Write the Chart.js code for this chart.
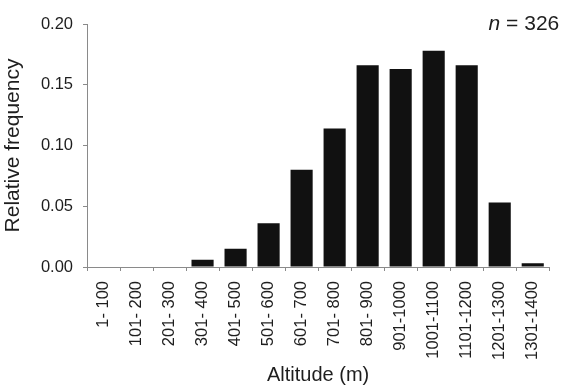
<!DOCTYPE html>
<html>
<head>
<meta charset="utf-8">
<script src="https://cdn.jsdelivr.net/npm/chart.js@4"></script>
<style>
  html, body { margin: 0; padding: 0; background: #fff; }
  #wrap { width: 563px; height: 387px; position: relative; }
</style>
</head>
<body>
<div id="wrap"><canvas id="altitude-chart"></canvas></div>
<script>
// Classes de altitude e frequência relativa
const altitudeBands = ['1- 100', '101- 200', '201- 300', '301- 400', '401- 500', '501- 600', '601- 700',
                       '701- 800', '801- 900', '901-1000', '1001-1100', '1101-1200', '1201-1300', '1301-1400'];
const relFrequency = [0, 0, 0, 0.006, 0.015, 0.036, 0.080, 0.114, 0.166, 0.163, 0.178, 0.166, 0.053, 0.003];
const yTicks = [0, 0.05, 0.10, 0.15, 0.20];
const sampleSize = 326;

const FONT = "'Liberation Sans', Arial, sans-serif";
const AXIS_GREY = '#8a8a8a';
const TEXT = '#1e1e1e';

// Texto "n = 326" no canto superior direito
const sampleLabel = {
    id: 'sampleLabel',
    afterDraw(chart) {
        const ctx = chart.ctx;
        const y = chart.scales.y.getPixelForValue(yTicks[yTicks.length - 1]);
        const xRight = chart.chartArea.right + 10;
        ctx.save();
        ctx.fillStyle = TEXT;
        ctx.textBaseline = 'middle';
        ctx.font = "21px " + FONT;
        const rest = ' = ' + sampleSize;
        const restW = ctx.measureText(rest).width;
        ctx.textAlign = 'right';
        ctx.fillText(rest, xRight, y);
        ctx.font = "italic 21px " + FONT;
        ctx.fillText('n', xRight - restW, y);
        ctx.restore();
    }
};

const altitudeChart = new Chart(document.getElementById('altitude-chart'), {
    type: 'bar',
    data: {
        labels: altitudeBands,
        datasets: [{
            label: 'Relative frequency',
            data: relFrequency,
            backgroundColor: '#111',
            borderWidth: 0,
            categoryPercentage: 1,
            barPercentage: 0.67
        }]
    },
    options: {
        responsive: true,
        maintainAspectRatio: false,
        animation: false,
        layout: { padding: { top: 24, right: 13, bottom: 0, left: 0 } },
        plugins: {
            legend: { display: false },
            tooltip: { enabled: false }
        },
        scales: {
            x: {
                offset: true,
                grid: { display: true, offset: true, drawOnChartArea: false, tickLength: 4, color: AXIS_GREY },
                border: { display: true, color: AXIS_GREY, width: 1 },
                ticks: {
                    autoSkip: false,
                    maxRotation: 90,
                    minRotation: 90,
                    padding: 10,
                    color: TEXT,
                    font: { family: FONT, size: 16.5 }
                },
                title: {
                    display: true,
                    text: 'Altitude (m)',
                    color: TEXT,
                    font: { family: FONT, size: 20 },
                    padding: { top: 0, bottom: 0 }
                },
                afterFit(scale) { scale.height = 120; }
            },
            y: {
                min: 0,
                max: 0.2,
                afterBuildTicks(scale) { scale.ticks = yTicks.map(v => ({ value: v })); },
                grid: { display: true, drawOnChartArea: false, tickLength: 4, color: AXIS_GREY },
                border: { display: true, color: AXIS_GREY, width: 1 },
                ticks: {
                    padding: 10,
                    color: TEXT,
                    font: { family: FONT, size: 16.5 },
                    callback: v => v.toFixed(2)
                },
                title: {
                    display: true,
                    text: 'Relative frequency',
                    color: TEXT,
                    font: { family: FONT, size: 21 },
                    padding: { top: 1, bottom: 0 }
                },
                afterFit(scale) { scale.width = 87; }
            }
        }
    },
    plugins: [sampleLabel]
});
</script>
</body>
</html>
